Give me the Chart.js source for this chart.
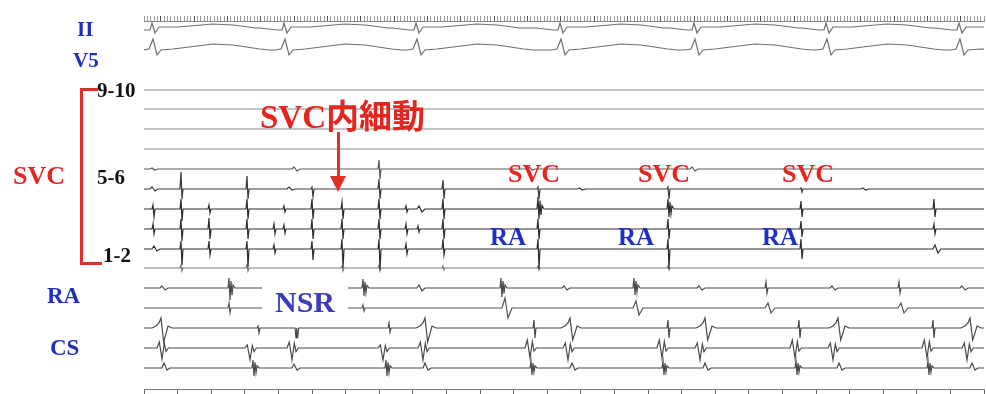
<!DOCTYPE html>
<html><head><meta charset="utf-8">
<script src="https://cdn.jsdelivr.net/npm/chart.js@4/dist/chart.umd.min.js"></script>
<style>
body{margin:0;background:#fff;}
#wrap{position:relative;width:986px;height:394px;overflow:hidden;background:#fff;}
canvas{position:absolute;left:0;top:0;}
.lb{position:absolute;font-family:"Liberation Serif","Times New Roman",serif;font-weight:bold;line-height:1;white-space:nowrap;}
.r{color:#e52620}.b{color:#1f2fc4}.k{color:#111}.n{color:#3b3dbb}
.bar{position:absolute;background:#e0302a;}
</style></head><body>
<div id="wrap">
<canvas id="c" width="986" height="394"></canvas>
<div class="lb b" style="left:77px;top:19px;font-size:21px">II</div>
<div class="lb b" style="left:73px;top:50px;font-size:21px">V5</div>
<div class="lb k" style="left:97px;top:80px;font-size:21px">9-10</div>
<div class="lb k" style="left:97px;top:167px;font-size:21px">5-6</div>
<div class="lb k" style="left:103px;top:245px;font-size:21px">1-2</div>
<div class="lb r" style="left:13px;top:163px;font-size:26px">SVC</div>
<div class="lb b" style="left:47px;top:284px;font-size:23px">RA</div>
<div class="lb b" style="left:50px;top:336px;font-size:23px">CS</div>
<div class="bar" style="left:80px;top:88px;width:3px;height:177px"></div>
<div class="bar" style="left:80px;top:88px;width:18px;height:3px"></div>
<div class="bar" style="left:80px;top:262px;width:22px;height:3px"></div>
<div class="lb r" style="left:260px;top:98px;font-size:33px">SVC<span style="font-family:'Noto Sans CJK JP',sans-serif">内細動</span></div>
<div class="bar" style="left:337px;top:132px;width:3px;height:46px"></div>
<div style="position:absolute;left:330px;top:176px;width:0;height:0;border-left:8px solid transparent;border-right:8px solid transparent;border-top:16px solid #e0302a"></div>
<div class="lb r" style="left:508px;top:161px;font-size:26px">SVC</div>
<div class="lb r" style="left:638px;top:161px;font-size:26px">SVC</div>
<div class="lb r" style="left:782px;top:161px;font-size:26px">SVC</div>
<div class="lb b" style="left:490px;top:224px;font-size:25px">RA</div>
<div class="lb b" style="left:618px;top:224px;font-size:25px">RA</div>
<div class="lb b" style="left:762px;top:224px;font-size:25px">RA</div>
<div style="position:absolute;left:262px;top:279px;width:86px;height:38px;background:#fff"></div>
<div class="lb n" style="left:275px;top:287px;font-size:30px">NSR</div>
</div>
<script>
// ---- time range (ms) and ruler steps ----
const timeRange = [-100, 4940];
const rulerTopStepMs = 20;
const rulerBottomStepMs = 200;

// ---- channel names and their vertical offsets (row order) ----
const channelNames = ['II','V5','SVC 9-10','SVC 8-9','SVC 7-8','SVC 6-7','SVC 5-6','SVC 4-5','SVC 3-4','SVC 2-3','SVC 1-2','SVC ref','RA d','RA p','CS 1','CS 2','CS 3'];
const channelOffsets = [28, 50, 90, 109, 129, 149, 169, 189, 209, 229, 249, 268, 288, 308, 328, 348, 368];

// ---- surface ECG: R-peak times (ms) ----
const ecgBeatMs = [-46, 746, 1538, 2402, 3206, 3998, 4796];

// ---- intracardiac events: [time ms, morphology, up amplitude, down amplitude] ----
const svc910 = [];
const svc89 = [];
const svc78 = [];
const svc67 = [];
const svc56 = [[-64,'w',1,1],[788,'w',2,2],[1304,'s',9,10],[2200,'w',2,1],[3176,'w',2,2]];
const svc45 = [[-64,'w',2,2],[116,'s',17,10],[512,'s',13,10],[758,'w',2,1],[902,'s',2,8],[1304,'s',10,10],[1688,'s',9,10],[2258,'s',2,10],[2500,'w',1,1],[3038,'s',2,10],[3836,'s',1,3],[4200,'w',1,1]];
const svc34 = [[-52,'s',4,8],[116,'s',10,12],[284,'s',4,4],[512,'s',10,10],[734,'s',3,3],[902,'s',10,10],[1082,'s',7,10],[1304,'s',10,10],[1466,'s',3,3],[1538,'w',3,3],[1688,'s',10,10],[2258,'f',12,10],[3038,'f',10,8],[3836,'s',8,8],[4634,'s',10,8]];
const svc23 = [[-52,'s',5,5],[116,'s',10,12],[284,'s',11,10],[512,'s',10,10],[674,'s',5,5],[734,'s',4,4],[902,'s',10,10],[1082,'s',10,10],[1304,'s',10,10],[1466,'s',5,5],[1538,'s',3,3],[1688,'s',10,10],[2258,'s',10,10],[3038,'s',10,10],[3836,'s',8,8],[4634,'s',5,5]];
const svc12 = [[-52,'w',3,2],[116,'s',8,16],[284,'s',8,6],[512,'s',8,18],[674,'s',4,4],[902,'s',8,11],[1082,'s',10,19],[1304,'s',10,21],[1466,'s',5,5],[1688,'s',10,6],[2258,'s',10,20],[3038,'s',10,20],[3836,'s',10,10],[4634,'w',4,4]];
const svcRef = [[116,'s',3,3],[512,'s',3,3],[1082,'s',2,3],[1304,'s',3,3],[1688,'s',2,2],[2258,'s',2,2],[3038,'s',2,2]];
const raDist = [[-4,'w',2,2],[404,'f',10,12],[1208,'f',9,8],[1538,'w',3,3],[2036,'f',10,9],[2408,'w',2,2],[2834,'f',10,7],[3218,'w',2,2],[3626,'s',6,5],[4016,'w',2,2],[4424,'s',6,5],[4796,'w',2,2]];
const raProx = [[404,'s',5,5],[1208,'s',3,3],[2048,'b',10,10],[2834,'b',7,7],[3626,'b',5,5],[4424,'b',5,5]];
const cs1 = [[14,'v',10,14],[578,'s',2,5],[806,'d',1,10],[1364,'s',5,4],[1598,'v',10,14],[2234,'s',8,10],[2468,'v',10,12],[3038,'s',8,10],[3278,'v',10,12],[3824,'s',8,10],[4076,'v',10,12],[4628,'s',8,10],[4868,'v',10,12]];
const cs2 = [[8,'W',6,11],[536,'W',3,12],[788,'W',6,12],[1334,'W',3,12],[1574,'W',6,12],[2216,'W',8,10],[2444,'W',5,12],[3008,'W',8,10],[3236,'W',5,12],[3806,'W',8,10],[4034,'W',5,12],[4598,'W',8,10],[4838,'W',5,12]];
const cs3 = [[8,'w',5,2],[548,'f',8,8],[788,'w',4,2],[1346,'f',8,8],[1574,'w',5,2],[2216,'f',7,7],[2456,'w',5,2],[3008,'f',7,7],[3254,'w',5,2],[3806,'f',7,7],[4058,'w',5,2],[4598,'f',7,7],[4856,'w',5,2]];

// ---- morphologies: [dt ms, relative amplitude] (positive scaled by up, negative by down) ----
const shapes = {
  s: [[0,0],[6,1],[12,-1],[18,0]],
  w: [[0,0],[12,1],[30,-1],[48,0]],
  b: [[0,0],[18,1],[36,-1],[60,0]],
  f: [[0,0],[6,1],[12,-1],[18,0.7],[24,-0.6],[30,0.3],[42,0]],
  d: [[0,0],[6,-1],[10,0],[16,-1],[22,0]],
  v: [[-66,0],[-42,0.2],[-24,0.5],[-12,1],[4,-1],[18,-0.4],[30,0.2],[54,0]],
  W: [[-30,0],[-16,1],[0,-1],[14,0.8],[24,-0.3],[38,0]],
  qII: [[-150,0],[-48,-2],[-18,-2],[-6,5],[12,-5],[36,1],[150,1],[360,4],[480,3],[620,0]],
  qV5: [[-60,0],[-24,1],[0,11],[24,-5],[48,0],[120,1],[360,6],[480,5],[640,1],[700,0]]
};

const ecgII = ecgBeatMs.map(t => [t, 'qII', 1, 1]);
const ecgV5 = ecgBeatMs.map(t => [t, 'qV5', 1, 1]);
const channelEvents = [ecgII, ecgV5, svc910, svc89, svc78, svc67, svc56, svc45, svc34, svc23, svc12, svcRef, raDist, raProx, cs1, cs2, cs3];
const channelColors = ['#707070','#707070','#8a8a8a','#8a8a8a','#8a8a8a','#8a8a8a','#5a5a5a','#3a3a3a','#2e2e2e','#2e2e2e','#2e2e2e','#7a7a7a','#4a4a4a','#555','#4a4a4a','#4a4a4a','#4a4a4a'];

function buildTrace(base, events) {
  const pts = [{x: timeRange[0] - 200, y: base}];
  events.forEach(([t, k, up, dn]) => {
    shapes[k].forEach(([dt, a]) => {
      const amp = a >= 0 ? a * up : a * dn;
      pts.push({x: t + dt, y: base - amp});
    });
  });
  pts.push({x: timeRange[1] + 200, y: base});
  pts.sort((p, q) => p.x - q.x);
  return pts;
}

const datasets = channelNames.map((name, i) => ({
  label: name,
  data: buildTrace(channelOffsets[i], channelEvents[i]),
  borderColor: channelColors[i],
  borderWidth: 1.2,
  pointRadius: 0,
  tension: 0,
  fill: false,
  xAxisID: 'x',
  yAxisID: 'y'
}));

new Chart(document.getElementById('c'), {
  type: 'line',
  data: { datasets },
  options: {
    responsive: false,
    animation: false,
    devicePixelRatio: 1,
    layout: { padding: { left: 144, right: 2, top: 0, bottom: 0 } },
    plugins: { legend: { display: false }, tooltip: { enabled: false } },
    events: [],
    scales: {
      x: {
        type: 'linear', position: 'bottom', min: timeRange[0], max: timeRange[1],
        ticks: { display: false, stepSize: rulerBottomStepMs, maxTicksLimit: 1000, includeBounds: false },
        grid: { drawOnChartArea: false, drawTicks: true, tickLength: 5, color: '#666', lineWidth: 1 },
        border: { display: true, color: '#777', width: 1 },
        afterFit: s => { s.height = 5; }
      },
      x2: {
        type: 'linear', position: 'top', min: timeRange[0], max: timeRange[1],
        ticks: { display: false, stepSize: rulerTopStepMs, maxTicksLimit: 1000, includeBounds: false },
        grid: { drawOnChartArea: false, drawTicks: true, tickLength: 5,
                color: c => (c.tick && c.tick.value % 200 === 0) ? '#555' : '#9a9a9a', lineWidth: 1 },
        border: { display: true, color: '#888', width: 1 },
        afterFit: s => { s.height = 21; }
      },
      y: {
        type: 'linear', display: false, min: 21, max: 389, reverse: true
      }
    }
  }
});
</script>
</body></html>
